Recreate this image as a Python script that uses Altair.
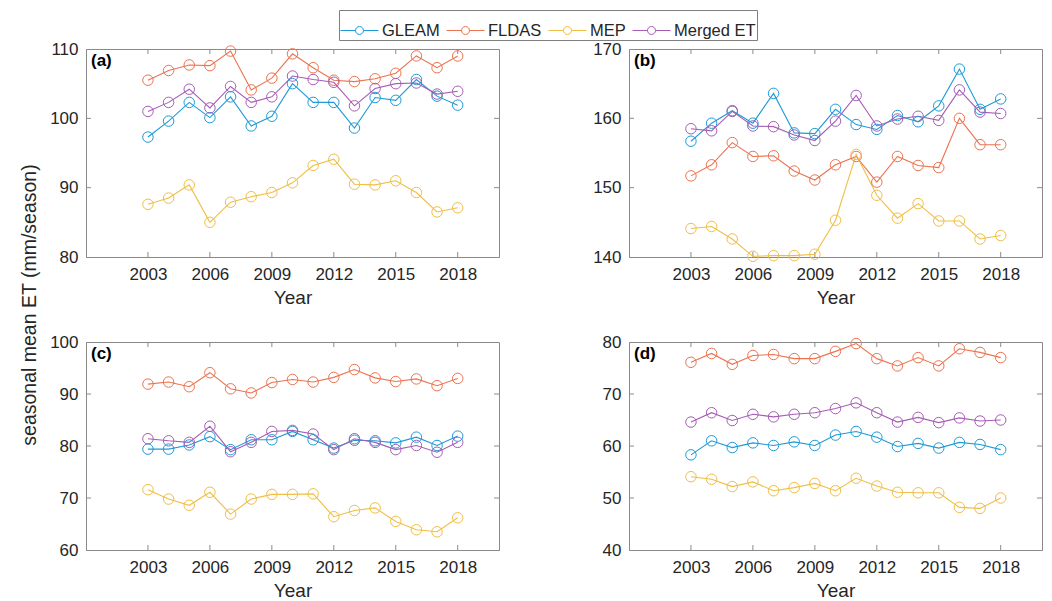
import altair as alt
import pandas as pd

years = list(range(2003, 2019))
series = ["GLEAM", "FLDAS", "MEP", "Merged ET"]
colors = ["#1F9AD6", "#EC7350", "#F0BE45", "#A55DB5"]
x_ticks = [2003, 2006, 2009, 2012, 2015, 2018]

# panel (a)
a_gleam = [97.3, 99.6, 102.3, 100.1, 103.1, 98.9, 100.3, 105.0, 102.3, 102.3, 98.6, 103.0, 102.6, 105.6, 103.2, 101.9]
a_fldas = [105.5, 106.9, 107.7, 107.6, 109.7, 104.1, 105.8, 109.3, 107.3, 105.5, 105.3, 105.7, 106.5, 109.0, 107.3, 109.0]
a_mep = [87.6, 88.5, 90.4, 85.0, 87.9, 88.7, 89.3, 90.7, 93.2, 94.1, 90.5, 90.4, 91.0, 89.3, 86.5, 87.1]
a_merged = [101.0, 102.3, 104.2, 101.5, 104.6, 102.3, 103.1, 106.1, 105.6, 105.2, 101.8, 104.3, 105.0, 105.1, 103.5, 103.9]
a_yticks = [80, 90, 100, 110]

# panel (b)
b_gleam = [156.7, 159.3, 161.1, 159.3, 163.6, 157.9, 157.8, 161.3, 159.1, 158.4, 160.4, 159.5, 161.8, 167.1, 161.3, 162.8]
b_fldas = [151.7, 153.3, 156.5, 154.5, 154.6, 152.4, 151.1, 153.3, 154.5, 150.8, 154.5, 153.2, 152.9, 160.0, 156.2, 156.2]
b_mep = [144.1, 144.4, 142.6, 140.1, 140.2, 140.2, 140.4, 145.3, 154.8, 148.9, 145.6, 147.7, 145.2, 145.2, 142.6, 143.1]
b_merged = [158.5, 158.2, 161.0, 158.9, 158.8, 157.6, 156.8, 159.6, 163.3, 158.9, 159.9, 160.3, 159.7, 164.1, 160.9, 160.7]
b_yticks = [140, 150, 160, 170]

# panel (c)
c_gleam = [79.4, 79.4, 80.2, 81.8, 79.3, 81.2, 81.2, 82.8, 81.2, 79.6, 81.1, 81.0, 80.6, 81.7, 80.1, 81.9]
c_fldas = [91.9, 92.3, 91.4, 94.1, 91.0, 90.2, 92.2, 92.8, 92.3, 93.2, 94.7, 93.1, 92.4, 92.9, 91.6, 93.0]
c_mep = [71.6, 69.8, 68.6, 71.1, 66.9, 69.8, 70.7, 70.7, 70.8, 66.4, 67.6, 68.1, 65.5, 63.9, 63.5, 66.2]
c_merged = [81.4, 81.0, 80.7, 83.8, 78.9, 80.7, 82.8, 83.0, 82.3, 79.3, 81.4, 80.7, 79.3, 80.1, 78.8, 80.7]
c_yticks = [60, 70, 80, 90, 100]

# panel (d)
d_gleam = [58.3, 61.0, 59.7, 60.6, 60.1, 60.8, 60.1, 62.1, 62.8, 61.7, 59.9, 60.5, 59.6, 60.7, 60.3, 59.3]
d_fldas = [76.1, 77.8, 75.7, 77.4, 77.6, 76.8, 76.8, 78.2, 79.7, 76.8, 75.4, 77.0, 75.4, 78.7, 78.0, 77.0]
d_mep = [54.1, 53.6, 52.2, 53.1, 51.4, 52.0, 52.8, 51.4, 53.8, 52.3, 51.1, 51.0, 51.0, 48.2, 48.0, 50.0]
d_merged = [64.6, 66.4, 64.9, 66.1, 65.6, 66.1, 66.4, 67.2, 68.3, 66.4, 64.6, 65.5, 64.5, 65.4, 64.8, 65.0]
d_yticks = [40, 50, 60, 70, 80]

panels = {
    "a": ([a_gleam, a_fldas, a_mep, a_merged], a_yticks),
    "b": ([b_gleam, b_fldas, b_mep, b_merged], b_yticks),
    "c": ([c_gleam, c_fldas, c_mep, c_merged], c_yticks),
    "d": ([d_gleam, d_fldas, d_mep, d_merged], d_yticks),
}

W, H = 413, 208
FONT = "Liberation Sans"
AX = "#8a8a8a"
TXT = "#262626"
TICK = 5

legend_path = "M-1,0L-0.21,0M0.21,0L1,0M0.21,0A0.21,0.21 0 1,1 -0.21,0A0.21,0.21 0 1,1 0.21,0"


def panel(key):
    vals, yt = panels[key]
    rows = []
    for s, v in zip(series, vals):
        for yr, val in zip(years, v):
            rows.append({"year": yr, "value": val, "series": s})
    df = pd.DataFrame(rows)
    ydom = [yt[0], yt[-1]]
    xs = alt.Scale(domain=[2000, 2020], nice=False, zero=False)
    ys = alt.Scale(domain=ydom, nice=False, zero=False)
    col = alt.Color(
        "series:N",
        scale=alt.Scale(domain=series, range=colors),
        sort=series,
        legend=alt.Legend(title=None, symbolType=legend_path),
    )
    x_enc = alt.X("year:Q", scale=xs, title="Year",
                  axis=alt.Axis(values=x_ticks, format="d", grid=False, ticks=False,
                                labelPadding=9, titlePadding=6))
    y_enc = alt.Y("value:Q", scale=ys, title=None,
                  axis=alt.Axis(values=yt, grid=False, ticks=False, labelPadding=8))
    base = alt.Chart(df).encode(x=x_enc, y=y_enc, color=col)
    lines = base.mark_line(strokeWidth=1.1)
    pts = base.mark_point(shape="circle", size=110, filled=False, strokeWidth=1, opacity=1)

    xt = pd.DataFrame({"year": x_ticks})
    ytd = pd.DataFrame({"value": yt[1:-1]})
    xr = alt.X("year:Q", scale=xs)
    yr_ = alt.Y("value:Q", scale=ys)
    tb = alt.Chart(xt).mark_rule(color=AX, strokeWidth=1).encode(
        x=xr, y=alt.value(H), y2=alt.value(H - TICK))
    tt = alt.Chart(xt).mark_rule(color=AX, strokeWidth=1).encode(
        x=xr, y=alt.value(0), y2=alt.value(TICK))
    tl = alt.Chart(ytd).mark_rule(color=AX, strokeWidth=1).encode(
        y=yr_, x=alt.value(0), x2=alt.value(TICK))
    tr = alt.Chart(ytd).mark_rule(color=AX, strokeWidth=1).encode(
        y=yr_, x=alt.value(W - TICK), x2=alt.value(W))
    lab = alt.Chart(pd.DataFrame({"t": [f"({key})"]})).mark_text(
        align="left", baseline="middle", font=FONT, fontSize=17, fontWeight="bold", color="#000000"
    ).encode(text="t:N", x=alt.value(5), y=alt.value(12))
    return alt.layer(tb, tt, tl, tr, lines, pts, lab).properties(width=W, height=H)


chart = alt.concat(
    panel("a"), panel("b"), panel("c"), panel("d"),
    columns=2, spacing={"row": 85, "column": 130}, bounds="flush",
).properties(
    title=alt.TitleParams("seasonal mean ET (mm/season)", orient="left", anchor="middle",
                          font=FONT, fontSize=19.5, fontWeight="normal", color=TXT, offset=9),
    padding={"left": 19, "top": 9, "right": 5, "bottom": 5},
).configure_view(
    stroke=AX, strokeWidth=1
).configure_axis(
    labelFont=FONT, labelFontSize=17, labelColor=TXT,
    titleFont=FONT, titleFontSize=19, titleColor=TXT, titleFontWeight="normal",
    domainColor=AX, domainWidth=1,
).configure_axisY(
    minExtent=35, maxExtent=35
).configure_legend(
    orient="none", legendX=253, legendY=-39, direction="horizontal",
    labelFont=FONT, labelFontSize=16.5, labelColor=TXT,
    strokeColor="#7f7f7f", fillColor="#ffffff", padding=1,
    symbolSize=1444, symbolStrokeWidth=1, symbolFillColor="transparent",
    columnPadding=4, labelOffset=3,
)

chart.save("out.html", embed_options={"renderer": "svg", "actions": False})
